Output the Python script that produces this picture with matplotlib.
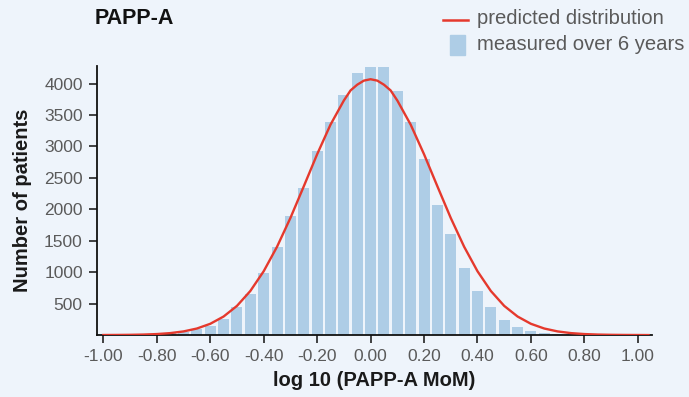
import numpy as np
import matplotlib
matplotlib.use('Agg')
import matplotlib.pyplot as plt
from matplotlib.lines import Line2D
from matplotlib.patches import Rectangle

# histogram bins (centre, log10 MoM) and counts
bin_centers = [round(-0.80 + 0.05 * i, 2) for i in range(32)]
counts = [10, 26, 53, 90, 148, 260, 445, 652, 991, 1398, 1891, 2336, 2929, 3385, 3819, 4169,
          4265, 4265, 3877, 3385, 2797, 2066, 1605, 1065, 699, 445, 238, 127, 64, 32, 16, 10]

# predicted distribution curve, read every 0.05 (0.025 near the peak)
curve_x = [-1.00, -0.95, -0.90, -0.85, -0.80, -0.75, -0.70, -0.65, -0.60, -0.55, -0.50, -0.45,
           -0.40, -0.35, -0.30, -0.25, -0.20, -0.15, -0.10, -0.075, -0.05, -0.025, 0.00,
           0.025, 0.05, 0.075, 0.10, 0.15, 0.20, 0.25, 0.30, 0.35, 0.40, 0.45, 0.50, 0.55,
           0.60, 0.65, 0.70, 0.75, 0.80, 0.85, 0.90, 0.95, 1.00, 1.04]
curve_y = [1, 2, 4, 8, 16, 31, 58, 104, 179, 295, 464, 701,
           1015, 1405, 1862, 2365, 2875, 3346, 3730, 3890, 3981, 4046, 4068,
           4046, 3981, 3890, 3730, 3346, 2875, 2365, 1862, 1405, 1015, 701, 464, 295,
           179, 104, 58, 31, 16, 8, 4, 2, 1, 0]

xticks = [-1.0, -0.8, -0.6, -0.4, -0.2, 0.0, 0.2, 0.4, 0.6, 0.8, 1.0]
yticks = [500, 1000, 1500, 2000, 2500, 3000, 3500, 4000]

bg = '#eef4fb'
bar_col = '#aecde6'
red = '#e5392d'
grey = '#5a5a5a'
sans = ['Liberation Sans', 'DejaVu Sans']

fig = plt.figure(figsize=(6.89, 3.97), dpi=100)
fig.patch.set_facecolor(bg)
ax = fig.add_axes([0.1403, 0.156, 0.8056, 0.678])
ax.set_facecolor(bg)

ax.bar(bin_centers, counts, width=0.041, color=bar_col, zorder=2)
ax.plot(curve_x, curve_y, color=red, lw=1.7, zorder=3)

ax.set_xlim(-1.025, 1.052)
ax.set_ylim(0, 4280)
ax.set_xticks(xticks)
ax.set_xticklabels(['%.2f' % t for t in xticks])
ax.set_yticks(yticks)

for lab in ax.get_xticklabels() + ax.get_yticklabels():
    lab.set_fontfamily(sans)
    lab.set_fontsize(12.5)
    lab.set_color(grey)
ax.tick_params(axis='both', direction='out', length=6, width=1.2, color='#222222', pad=4)

for s in ['top', 'right']:
    ax.spines[s].set_visible(False)
for s in ['left', 'bottom']:
    ax.spines[s].set_linewidth(1.3)
    ax.spines[s].set_color('#111111')

ax.set_xlabel('log 10 (PAPP-A MoM)', fontsize=14.5, fontweight='bold',
              family=sans, color='#1a1a1a', labelpad=5)
ax.set_ylabel('Number of patients', fontsize=14.5, fontweight='bold',
              family=sans, color='#1a1a1a', labelpad=9)

fig.text(95 / 689, 1 - 18 / 397, 'PAPP-A', fontsize=15.5, fontweight='bold',
         family=sans, color='#111111', va='center', ha='left')

# legend drawn by hand
def fx(px):
    return px / 689

def fy(py):
    return 1 - py / 397

fig.add_artist(Line2D([fx(443), fx(468)], [fy(20), fy(20)], color=red, lw=1.8))
fig.add_artist(Rectangle((fx(450), fy(55)), 15 / 689, 20 / 397, color=bar_col,
                         transform=fig.transFigure))
leg_font = dict(fontsize=14.6, family=sans, color=grey, va='center')
fig.text(fx(477), fy(19), 'predicted distribution', **leg_font)
fig.text(fx(477), fy(44), 'measured over 6 years', **leg_font)

fig.savefig('out.png', dpi=100, facecolor=bg)
